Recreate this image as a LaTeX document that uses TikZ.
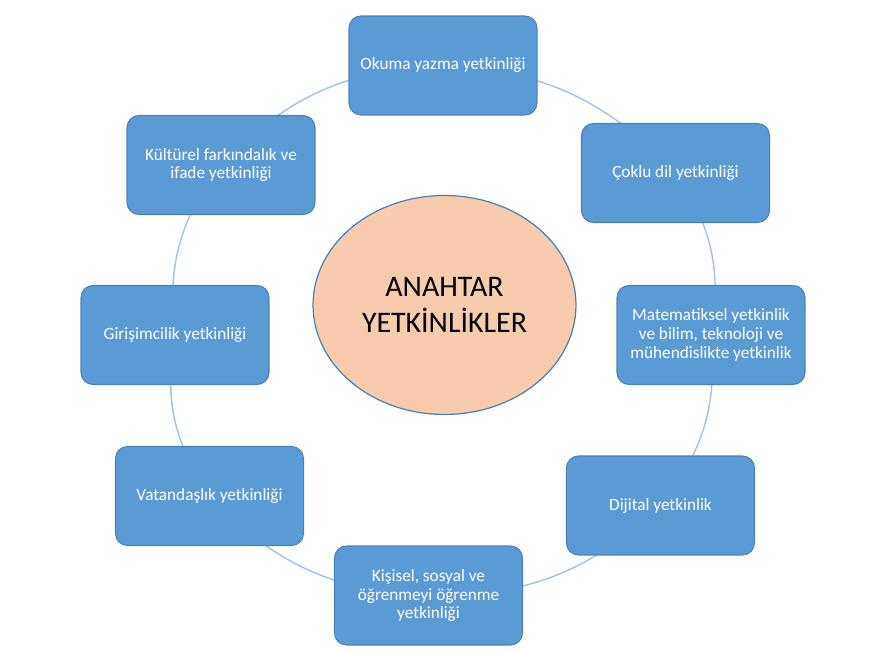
\documentclass[tikz,border=0pt]{standalone}
\usepackage{fontspec}
\setmainfont{Carlito}
\usetikzlibrary{shapes.geometric,backgrounds}
\definecolor{boxblue}{HTML}{5B9BD5}
\definecolor{boxedge}{HTML}{4A82B8}
\definecolor{hubfill}{HTML}{F8CBAD}
\definecolor{ringblue}{HTML}{9DC3E6}

\begin{document}
\begin{tikzpicture}[x=0.02cm, y=-0.02cm,
    box/.style={draw=boxedge, line width=0.6pt, rounded corners=0.24cm, fill=boxblue, text=white, minimum width=3.76cm, minimum height=1.98cm, align=center, font=\fontsize{9.8}{10.6}\selectfont},
    hub/.style={ellipse, draw=boxedge, line width=0.7pt, fill=hubfill, inner sep=0pt, minimum width=5.26cm, minimum height=4.38cm, align=center, font=\fontsize{17}{20.2}\selectfont},
    ring/.style={draw=ringblue, line width=0.8pt, bend left=22}]
    \useasboundingbox (0,0) rectangle (870,652);
    \node[hub] (hub) at (444.5,305) {ANAHTAR\\YETK\.INL\.IKLER};
    \node[box] (okuma) at (443,65.5) {Okuma yazma yetkinliği};
    \node[box] (coklu) at (675.5,173) {Çoklu dil yetkinliği};
    \node[box] (matematik) at (711,335) {Matematiksel yetkinlik\\ve bilim, teknoloji ve\\mühendislikte yetkinlik};
    \node[box] (dijital) at (660.5,505.5) {Dijital yetkinlik};
    \node[box] (kisisel) at (428.5,595.5) {Kişisel, sosyal ve\\öğrenmeyi öğrenme\\yetkinliği};
    \node[box] (vatandas) at (209.5,496) {Vatandaşlık yetkinliği};
    \node[box] (girisim) at (175,335) {Girişimcilik yetkinliği};
    \node[box] (kultur) at (221,165) {Kültürel farkındalık ve\\ifade yetkinliği};
    % ring behind the boxes
    \begin{scope}[on background layer]
      \draw[ring] (okuma.center) to (coklu.center);
      \draw[ring] (coklu.center) to (matematik.center);
      \draw[ring] (matematik.center) to (dijital.center);
      \draw[ring] (dijital.center) to (kisisel.center);
      \draw[ring] (kisisel.center) to (vatandas.center);
      \draw[ring] (vatandas.center) to (girisim.center);
      \draw[ring] (girisim.center) to (kultur.center);
      \draw[ring] (kultur.center) to (okuma.center);
    \end{scope}
  \end{tikzpicture}
\end{document}
